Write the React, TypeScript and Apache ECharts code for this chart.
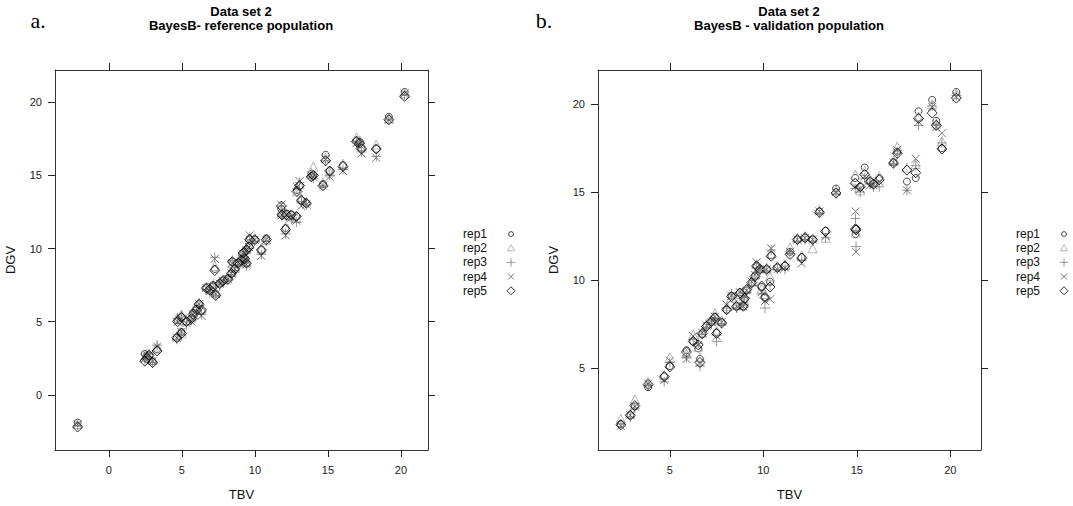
import React, { useEffect, useRef } from "react";
import * as echarts from "echarts";

// Data set 2, BayesB: reference population (true vs. direct genomic breeding values)
const tbvRef = [
  -2.14, 2.46, 2.6, 2.75, 2.99, 3.3, 4.65, 4.97, 4.7, 4.97, 5.31, 5.65, 5.77, 6.0, 6.18,
  6.34, 6.68, 6.91, 7.14, 7.32, 7.25, 7.59, 7.82, 8.16, 8.39, 8.62, 8.45, 8.85, 9.08, 9.19,
  9.42, 9.6, 9.64, 9.99, 10.78, 9.42, 9.3, 10.44, 11.81, 11.85, 12.15, 12.1, 12.49, 12.84,
  12.88, 13.06, 13.18, 13.52, 13.86, 14.0, 14.66, 14.84, 15.12, 16.03, 16.95, 17.17, 17.3,
  18.31, 19.17, 20.25,
];
const dgvRef1 = [
  -1.9, 2.8, 2.7, 2.7, 2.3, 3.1, 3.9, 4.3, 5.1, 5.3, 5.0, 5.2, 5.6, 5.9, 6.2, 5.7, 7.3, 7.1,
  7.5, 6.9, 8.6, 7.6, 7.8, 8.0, 8.3, 8.6, 9.1, 9.0, 9.3, 9.7, 9.9, 10.2, 10.7, 10.6, 10.7,
  9.0, 9.3, 9.9, 12.7, 12.3, 12.4, 11.4, 12.3, 12.2, 14.0, 14.3, 13.3, 13.1, 15.1, 15.0,
  14.4, 16.4, 15.3, 15.7, 17.4, 17.3, 16.9, 16.8, 19.0, 20.7,
];
const dgvRef2 = [
  -2.0, 2.6, 2.8, 2.6, 2.4, 3.3, 4.0, 4.2, 5.3, 5.5, 5.1, 5.3, 5.5, 6.0, 6.3, 5.9, 7.4, 7.2,
  7.4, 7.0, 8.8, 7.7, 7.9, 8.1, 8.4, 8.7, 9.0, 9.1, 9.2, 9.8, 10.0, 10.3, 10.8, 10.7, 10.6,
  9.1, 9.4, 10.0, 12.6, 12.4, 12.3, 11.5, 12.2, 12.1, 13.9, 14.4, 13.4, 13.2, 15.2, 15.6,
  14.5, 16.2, 15.2, 15.8, 17.6, 17.4, 17.0, 17.1, 18.9, 20.6,
];
const dgvRef3 = [
  -2.1, 2.4, 2.6, 2.8, 2.2, 3.4, 3.8, 4.1, 5.2, 5.4, 4.8, 5.1, 5.4, 5.8, 6.1, 5.5, 7.2, 7.0,
  7.6, 6.8, 9.4, 7.5, 7.7, 7.9, 8.2, 8.5, 9.2, 8.9, 9.2, 9.6, 9.8, 10.0, 10.6, 10.5, 10.5,
  8.8, 9.1, 9.6, 12.9, 12.2, 12.2, 11.0, 12.0, 11.8, 14.1, 14.5, 13.2, 13.0, 14.9, 14.8,
  14.3, 16.0, 15.0, 15.4, 17.3, 17.2, 16.6, 16.3, 18.8, 20.5,
];
const dgvRef4 = [
  -2.0, 2.5, 2.7, 2.7, 2.3, 3.3, 3.9, 4.3, 5.0, 5.2, 4.9, 5.0, 5.5, 5.7, 6.2, 5.4, 7.3, 7.1,
  7.3, 6.9, 9.3, 7.6, 7.8, 7.9, 8.3, 8.6, 9.0, 8.9, 9.3, 9.6, 9.9, 10.1, 10.9, 10.6, 10.6,
  8.9, 9.2, 9.5, 13.0, 12.3, 12.3, 10.9, 12.1, 11.9, 14.2, 14.6, 12.9, 13.0, 15.0, 14.9,
  14.3, 16.1, 14.9, 15.3, 17.2, 17.1, 16.5, 16.2, 18.8, 20.6,
];
const dgvRef5 = [
  -2.2, 2.3, 2.5, 2.7, 2.2, 3.0, 3.9, 4.2, 5.0, 5.3, 5.0, 5.2, 5.5, 5.8, 6.2, 5.8, 7.3, 7.2,
  7.4, 6.8, 8.5, 7.6, 7.8, 7.9, 8.3, 8.6, 9.1, 9.0, 9.2, 9.7, 9.9, 10.1, 10.6, 10.6, 10.6,
  9.0, 9.3, 9.9, 12.9, 12.3, 12.3, 11.3, 12.3, 12.2, 13.9, 14.3, 13.3, 13.1, 14.9, 15.0,
  14.3, 16.0, 15.3, 15.6, 17.3, 17.2, 16.8, 16.8, 18.8, 20.4,
];

// Data set 2, BayesB: validation population
const tbvVal = [
  2.38, 2.89, 3.13, 3.84, 4.7, 5.0, 5.89, 6.25, 6.52, 6.61, 6.73, 6.96, 7.23, 7.41, 7.5,
  7.77, 8.04, 8.3, 8.57, 8.75, 8.93, 9.11, 9.38, 9.55, 9.64, 9.82, 9.91, 9.0, 10.18, 10.36,
  10.09, 10.42, 10.75, 11.16, 11.43, 11.82, 12.05, 12.23, 12.64, 13.0, 13.33, 13.89, 14.93,
  14.96, 14.91, 15.18, 15.42, 15.71, 15.89, 16.2, 16.96, 17.16, 17.68, 18.15, 18.3, 19.03,
  19.25, 19.55, 20.32,
];
const dgvVal1 = [
  1.8, 2.3, 2.8, 3.9, 4.5, 5.1, 6.0, 6.5, 6.1, 5.5, 6.9, 7.4, 7.6, 7.9, 7.0, 7.6, 8.3, 9.1,
  8.5, 9.3, 8.5, 9.4, 9.8, 10.2, 10.8, 10.6, 9.6, 8.9, 10.6, 9.9, 9.0, 11.4, 10.7, 10.8,
  11.6, 12.3, 11.3, 12.4, 12.3, 13.9, 12.8, 15.2, 12.6, 12.9, 15.8, 15.3, 16.4, 15.6, 15.5,
  15.8, 16.7, 17.3, 15.6, 15.8, 19.6, 20.25, 19.05, 17.5, 20.7,
];
const dgvVal2 = [
  2.1, 2.4, 3.2, 4.2, 4.6, 5.6, 5.8, 6.9, 6.2, 5.6, 7.0, 7.5, 7.7, 8.1, 7.1, 7.7, 8.5, 9.0,
  8.6, 9.2, 8.7, 9.5, 9.9, 10.3, 10.9, 10.7, 9.5, 8.8, 10.7, 10.2, 9.2, 11.5, 10.8, 10.9,
  11.85, 12.4, 11.4, 12.5, 11.8, 14.0, 12.4, 15.1, 13.0, 12.7, 16.0, 15.1, 16.2, 15.7, 15.6,
  15.9, 16.8, 17.6, 16.4, 16.6, 19.3, 20.0, 18.9, 17.9, 20.6,
];
const dgvVal3 = [
  1.8, 2.2, 2.7, 4.0, 4.2, 5.3, 5.6, 6.6, 6.4, 5.1, 6.9, 7.3, 7.5, 7.8, 6.5, 7.5, 8.4, 9.2,
  8.4, 9.1, 8.6, 9.3, 9.7, 10.1, 10.7, 10.5, 9.2, 9.0, 10.5, 9.7, 8.4, 11.7, 10.6, 10.6,
  11.5, 12.2, 11.1, 12.3, 12.2, 13.8, 12.4, 14.9, 13.5, 11.9, 15.2, 15.0, 15.8, 15.5, 15.3,
  15.3, 16.6, 17.2, 15.1, 16.5, 18.8, 19.9, 18.8, 17.8, 20.5,
];
const dgvVal4 = [
  1.7, 2.3, 2.8, 4.1, 4.3, 5.4, 5.5, 6.8, 6.3, 5.3, 7.0, 7.4, 7.6, 7.9, 6.8, 7.6, 8.6, 9.1,
  8.5, 9.3, 8.5, 9.4, 9.9, 10.3, 11.0, 10.6, 9.3, 9.1, 10.6, 8.9, 8.8, 11.8, 10.6, 10.7,
  11.6, 12.3, 10.95, 12.4, 12.3, 13.9, 12.5, 15.0, 13.9, 11.6, 15.3, 15.2, 15.9, 15.4, 15.4,
  15.6, 16.7, 17.4, 15.1, 16.9, 19.0, 19.85, 18.7, 18.35, 20.4,
];
const dgvVal5 = [
  1.75, 2.3, 2.85, 4.05, 4.5, 5.05, 5.9, 6.5, 6.3, 5.3, 6.95, 7.35, 7.65, 7.85, 6.95, 7.55,
  8.3, 9.05, 8.5, 9.25, 8.5, 9.45, 9.85, 10.2, 10.8, 10.6, 9.65, 8.95, 10.6, 9.6, 9.0, 11.35,
  10.7, 10.8, 11.45, 12.3, 11.25, 12.4, 12.3, 13.85, 12.75, 14.95, 12.9, 12.85, 15.5, 15.3,
  16.0, 15.6, 15.45, 15.7, 16.65, 17.2, 16.25, 16.1, 19.2, 19.5, 18.8, 17.45, 20.35,
];

const repNames = ["rep1", "rep2", "rep3", "rep4", "rep5"];
const refTicksX = [0, 5, 10, 15, 20];
const refTicksY = [0, 5, 10, 15, 20];
const valTicksX = [5, 10, 15, 20];
const valTicksY = [5, 10, 15, 20];

const FONT = "Liberation Sans, Arial, Helvetica, sans-serif";

// plotting symbols per replicate (open circle, triangle, plus, cross, diamond)
const repStyles = [
  { symbol: "circle", size: 7, color: "#1a1a1a" },
  { symbol: "triangle", size: 9, color: "#a6a6a6" },
  { symbol: "path://M5,0L5,10M0,5L10,5", size: 10, color: "#808080" },
  { symbol: "path://M0,0L10,10M10,0L0,10", size: 8, color: "#555555" },
  { symbol: "diamond", size: 10, color: "#000000" },
];

// smaller key glyphs, padded inside a 10x10 box so they keep their own size
const keyIcons = [
  "path://M0,0M10,10M7.4,5A2.4,2.4 0 1 1 2.6,5A2.4,2.4 0 1 1 7.4,5Z",
  "path://M0,0M10,10M5,1.4L8.6,7.6L1.4,7.6Z",
  "path://M0,0M10,10M5,0.8L5,9.2M0.8,5L9.2,5",
  "path://M0,0M10,10M2,2L8,8M8,2L2,8",
  "path://M0,0M10,10M5,1L9,5L5,9L1,5Z",
];

function pairs(xs: number[], ys: number[]) {
  return xs.map((x, i) => [x, ys[i]]);
}

function axisPair(
  gridIndex: number,
  min: number,
  max: number,
  ticks: number[],
  kind: "x" | "y",
  name: string
) {
  const tickStyle = {
    show: true,
    inside: false,
    length: 7,
    customValues: ticks,
    lineStyle: { color: "#222", width: 1 },
  };
  const line = { show: true, onZero: false, lineStyle: { color: "#333", width: 1 } };
  const main = {
    type: "value",
    gridIndex,
    min,
    max,
    position: kind === "x" ? "bottom" : "left",
    name,
    nameLocation: "middle",
    nameGap: 38,
    nameTextStyle: { fontFamily: FONT, fontSize: 13, color: "#111" },
    axisLine: line,
    axisTick: tickStyle,
    splitLine: { show: false },
    axisLabel: {
      customValues: ticks,
      margin: kind === "x" ? 14 : 13,
      fontFamily: FONT,
      fontSize: 11,
      color: "#222",
    },
  };
  const mirror = {
    type: "value",
    gridIndex,
    min,
    max,
    position: kind === "x" ? "top" : "right",
    axisLine: line,
    axisTick: tickStyle,
    splitLine: { show: false },
    axisLabel: { show: false, customValues: ticks },
  };
  return [main, mirror];
}

export default function App() {
  const ref = useRef<HTMLDivElement>(null);

  useEffect(() => {
    if (!ref.current) return;
    const chart = echarts.init(ref.current, null, { renderer: "svg" });

    const refSets = [dgvRef1, dgvRef2, dgvRef3, dgvRef4, dgvRef5];
    const valSets = [dgvVal1, dgvVal2, dgvVal3, dgvVal4, dgvVal5];

    const makeSeries = (sets: number[][], xs: number[], xIdx: number, yIdx: number) =>
      sets.map((ys, k) => ({
        type: "scatter",
        name: repNames[k],
        xAxisIndex: xIdx,
        yAxisIndex: yIdx,
        symbol: repStyles[k].symbol,
        symbolSize: repStyles[k].size,
        itemStyle: { color: "transparent", borderColor: repStyles[k].color, borderWidth: 1 },
        emphasis: { disabled: true },
        data: pairs(xs, ys),
      }));

    const xRef = axisPair(0, -3.69, 21.85, refTicksX, "x", "TBV");
    const yRef = axisPair(0, -3.77, 22.2, refTicksY, "y", "DGV");
    const xVal = axisPair(1, 1.16, 21.64, valTicksX, "x", "TBV");
    const yVal = axisPair(1, 0.32, 21.95, valTicksY, "y", "DGV");

    const legendBase = {
      orient: "vertical",
      align: "right",
      top: 227,
      padding: 0,
      itemWidth: 10,
      itemHeight: 10,
      itemGap: 0.2,
      selectedMode: false,
      itemStyle: { borderWidth: 1 },
      textStyle: {
        fontFamily: FONT,
        fontSize: 12,
        lineHeight: 14,
        color: "#111",
        padding: [0, 14, 0, 0],
      },
      data: repNames.map((n, k) => ({ name: n, icon: keyIcons[k] })),
    };

    const titleText = (x: number, lines: string[]) =>
      lines.map((t, i) => ({
        type: "text",
        x,
        y: 11 + i * 14,
        style: {
          text: t,
          fontFamily: FONT,
          fontSize: 13,
          fontWeight: "bold",
          fill: "#000",
          textAlign: "center",
          textVerticalAlign: "middle",
        },
      }));

    const panelLetter = (x: number, t: string) => ({
      type: "text",
      x,
      y: 20,
      style: {
        text: t,
        fontFamily: "Liberation Serif, DejaVu Serif, serif",
        fontSize: 22,
        fill: "#000",
        textAlign: "center",
        textVerticalAlign: "middle",
      },
    });

    chart.setOption({
      animation: false,
      backgroundColor: "#fff",
      grid: [
        { left: 55, top: 70, width: 373, height: 381 },
        { left: 598, top: 70, width: 383, height: 381 },
      ],
      xAxis: [xRef[0], xRef[1], xVal[0], xVal[1]],
      yAxis: [yRef[0], yRef[1], yVal[0], yVal[1]],
      legend: [
        { ...legendBase, left: 463 },
        { ...legendBase, left: 1016 },
      ],
      graphic: [
        ...titleText(241, ["Data set 2", "BayesB- reference population"]),
        ...titleText(789, ["Data set 2", "BayesB - validation population"]),
        panelLetter(38, "a."),
        panelLetter(544, "b."),
      ],
      series: [...makeSeries(refSets, tbvRef, 0, 0), ...makeSeries(valSets, tbvVal, 2, 2)],
    });

    return () => chart.dispose();
  }, []);

  return (
    <div
      ref={ref}
      style={{ position: "fixed", left: 0, top: 0, width: 1073, height: 506, background: "#fff" }}
    />
  );
}
